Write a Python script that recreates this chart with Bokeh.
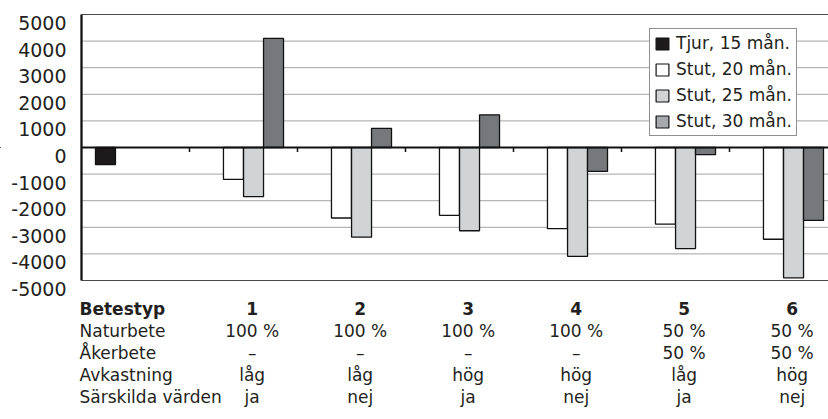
import numpy as np
from bokeh.plotting import figure
from bokeh.models import Range1d, Legend, LegendItem
from bokeh.core.properties import value
from bokeh.embed import file_html
from bokeh.resources import INLINE

# ---------------- data ----------------
series_names = ["Tjur, 15 mån.", "Stut, 20 mån.", "Stut, 25 mån.", "Stut, 30 mån."]
tjur_15 = [-640]                                   # reference group (no betestyp)
stut_20 = [-1200, -2650, -2550, -3050, -2880, -3450]
stut_25 = [-1850, -3370, -3130, -4090, -3800, -4900]
stut_30 = [4100, 720, 1230, -900, -270, -2740]

y_ticks = [5000, 4000, 3000, 2000, 1000, 0, -1000, -2000, -3000, -4000, -5000]
y_tick_labels = ["5000", "4000", "3000", "2000", "1000", "0",
                 "-1000", "-2000", "-3000", "-4000", "-5000"]

row_labels = ["Betestyp", "Naturbete", "Åkerbete", "Avkastning", "Särskilda värden"]
betestyp = ["1", "2", "3", "4", "5", "6"]
naturbete = ["100 %", "100 %", "100 %", "100 %", "50 %", "50 %"]
akerbete = ["–", "–", "–", "–", "50 %", "50 %"]
avkastning = ["låg", "låg", "hög", "hög", "låg", "hög"]
sarskilda = ["ja", "nej", "ja", "nej", "ja", "nej"]

# ---------------- layout constants ----------------
W, H = 828, 419
PAGE_LEFT, PAGE_TOP = 0, 0
AXIS_PX = 81          # page x of the value axis
CAT_PX = 108          # px per category
TOP_PX = 14           # page y of the 5000 line
PX_PER_UNIT = 0.0266  # px per value unit

def data_y(page_y):
    return 5000 - (page_y - TOP_PX) / PX_PER_UNIT

def data_x(page_x):
    return (page_x - AXIS_PX) / CAT_PX

x_range = Range1d(data_x(PAGE_LEFT), data_x(PAGE_LEFT + W))
y_range = Range1d(data_y(PAGE_TOP + H), data_y(PAGE_TOP))

p = figure(width=W, height=H, x_range=x_range, y_range=y_range,
           output_backend="svg", toolbar_location=None,
           x_axis_type=None, y_axis_type=None, min_border=0)
p.outline_line_color = None
p.background_fill_color = "white"
p.border_fill_color = "white"

FONT = value("DejaVu Sans")
TXT = "#231f20"

n_groups = 7
x_end = n_groups

# grid lines
inner = [t for t in y_ticks if t not in (5000, -5000, 0)]
p.segment(x0=[0] * len(inner), x1=[x_end] * len(inner), y0=inner, y1=inner,
          line_color="#a3a3a3", line_width=1)
p.segment(x0=[0, 0], x1=[x_end, x_end], y0=[5000, -5000], y1=[5000, -5000],
          line_color="#4a4a4a", line_width=1.2)

# bars
bar_w = 0.185
offsets = [-0.278, -0.093, 0.093, 0.278]
fills = ["#1c1a1b", "#ffffff", "#d1d3d4", "#77787b"]
centers = np.arange(1, n_groups) + 0.5

p.vbar(x=[0.5 + offsets[0]], top=tjur_15, bottom=0, width=bar_w,
       fill_color=fills[0], line_color="#111111", line_width=1.3)
for vals, off, col in zip([stut_20, stut_25, stut_30], offsets[1:], fills[1:]):
    p.vbar(x=centers + off, top=vals, bottom=0, width=bar_w,
           fill_color=col, line_color="#111111", line_width=1.3)

# zero line and category ticks
p.segment(x0=[0], x1=[x_end], y0=[0], y1=[0], line_color="#111111", line_width=1.8)
tick_x = np.arange(1, n_groups)
p.segment(x0=tick_x, x1=tick_x, y0=[0] * len(tick_x), y1=[-4.5 / PX_PER_UNIT] * len(tick_x),
          line_color="#111111", line_width=1.5)

# value axis line
p.segment(x0=[0], x1=[0], y0=[-5000], y1=[5000], line_color="#111111", line_width=2.3)

# value tick labels (sitting just below their grid lines, as in the reference)
p.text(x=[data_x(66)] * len(y_ticks), y=y_ticks, text=y_tick_labels,
       text_align="right", text_baseline="alphabetic", y_offset=8.5,
       text_font=FONT, text_font_size="19px", text_color=TXT)

# table below the chart
row_baselines = [308, 330, 352, 374, 396]
LABEL_PX = 79
p.text(x=[data_x(LABEL_PX)], y=[data_y(row_baselines[0])], text=row_labels[:1],
       text_align="left", text_baseline="alphabetic",
       text_font=FONT, text_font_size="17px", text_color=TXT, text_font_style="bold")
p.text(x=[data_x(LABEL_PX)] * 4, y=[data_y(b) for b in row_baselines[1:]], text=row_labels[1:],
       text_align="left", text_baseline="alphabetic",
       text_font=FONT, text_font_size="17px", text_color=TXT)
col_x = centers + 0.08
for i, row in enumerate([betestyp, naturbete, akerbete, avkastning, sarskilda]):
    p.text(x=col_x, y=[data_y(row_baselines[i])] * len(row), text=row,
           text_align="center", text_baseline="alphabetic",
           text_font=FONT, text_font_size="17px", text_color=TXT,
           text_font_style="bold" if i == 0 else "normal")

# legend (swatches as in the reference); proxy bars lie outside the visible range
legend_fills = ["#1c1a1b", "#ffffff", "#d1d3d4", "#a7a9ac"]
items = []
for name, col in zip(series_names, legend_fills):
    r = p.vbar(x=[-50], top=[0], bottom=[0], width=bar_w, fill_color=col,
               line_color="#111111", line_width=1.2)
    items.append(LegendItem(label=name, renderers=[r]))
legend = Legend(items=items, location=(649, 283), orientation="vertical",
                label_text_font="DejaVu Sans", label_text_font_size="17px",
                label_text_color=TXT, glyph_width=16, glyph_height=15,
                label_height=20, label_standoff=6, spacing=6, padding=4, margin=0,
                border_line_color="#231f20", border_line_width=1.2,
                background_fill_color="white", background_fill_alpha=1.0)
p.add_layout(legend)

open("out.html", "w").write(file_html(p, INLINE))
